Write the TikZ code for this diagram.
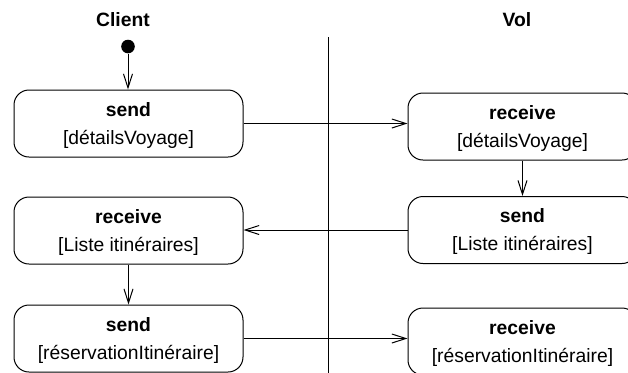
\documentclass[tikz,border=0pt]{standalone}
\usepackage{fontspec}
\setmainfont{Liberation Sans}
\usetikzlibrary{arrows.meta}
\newcommand{\actfont}{\fontsize{9.65}{14}\selectfont}

\begin{document}
\begin{tikzpicture}[x=0.5pt,y=-0.5pt,>={Straight Barb[length=7pt,width=4.5pt]},line width=0.5pt]
    \tikzstyle{action}=[draw=black,rounded corners=7.5pt,minimum width=114.5pt,minimum height=33.5pt,align=center,font=\actfont,text depth=0.5pt]
    \tikzstyle{lane}=[font=\actfont\bfseries]
    \clip (0,0) rectangle (628,372);
    \node[lane] (client) at (123,20) {Client};
    \node[lane] (vol) at (517,20) {Vol};
    \draw (328,37) -- (328,380);
    \node[circle,fill=black,inner sep=0pt,minimum size=6.8pt] (start) at (128,46.5) {};
    \node[action] (c1) at (128.5,123.5) {\textbf{send}\\{[détailsVoyage]}};
    \node[action] (v1) at (522.5,126.5) {\textbf{receive}\\{[détailsVoyage]}};
    \node[action] (v2) at (522.5,230) {\textbf{send}\\{[Liste itinéraires]}};
    \node[action] (c2) at (128.5,230.5) {\textbf{receive}\\{[Liste itinéraires]}};
    \node[action] (c3) at (128.5,338.5) {\textbf{send}\\{[réservationItinéraire]}};
    \node[action] (v3) at (522.5,341.5) {\textbf{receive}\\{[réservationItinéraire]}};
    \draw[->] (start) -- (start |- c1.north);
    \draw[->] (c1.east) -- (c1.east -| v1.west);
    \draw[->] (v1.south) -- (v2.north);
    \draw[->] (v2.west) -- (v2.west -| c2.east);
    \draw[->] (c2.south) -- (c3.north);
    \draw[->] (c3.east) -- (c3.east -| v3.west);
\end{tikzpicture}
\end{document}
